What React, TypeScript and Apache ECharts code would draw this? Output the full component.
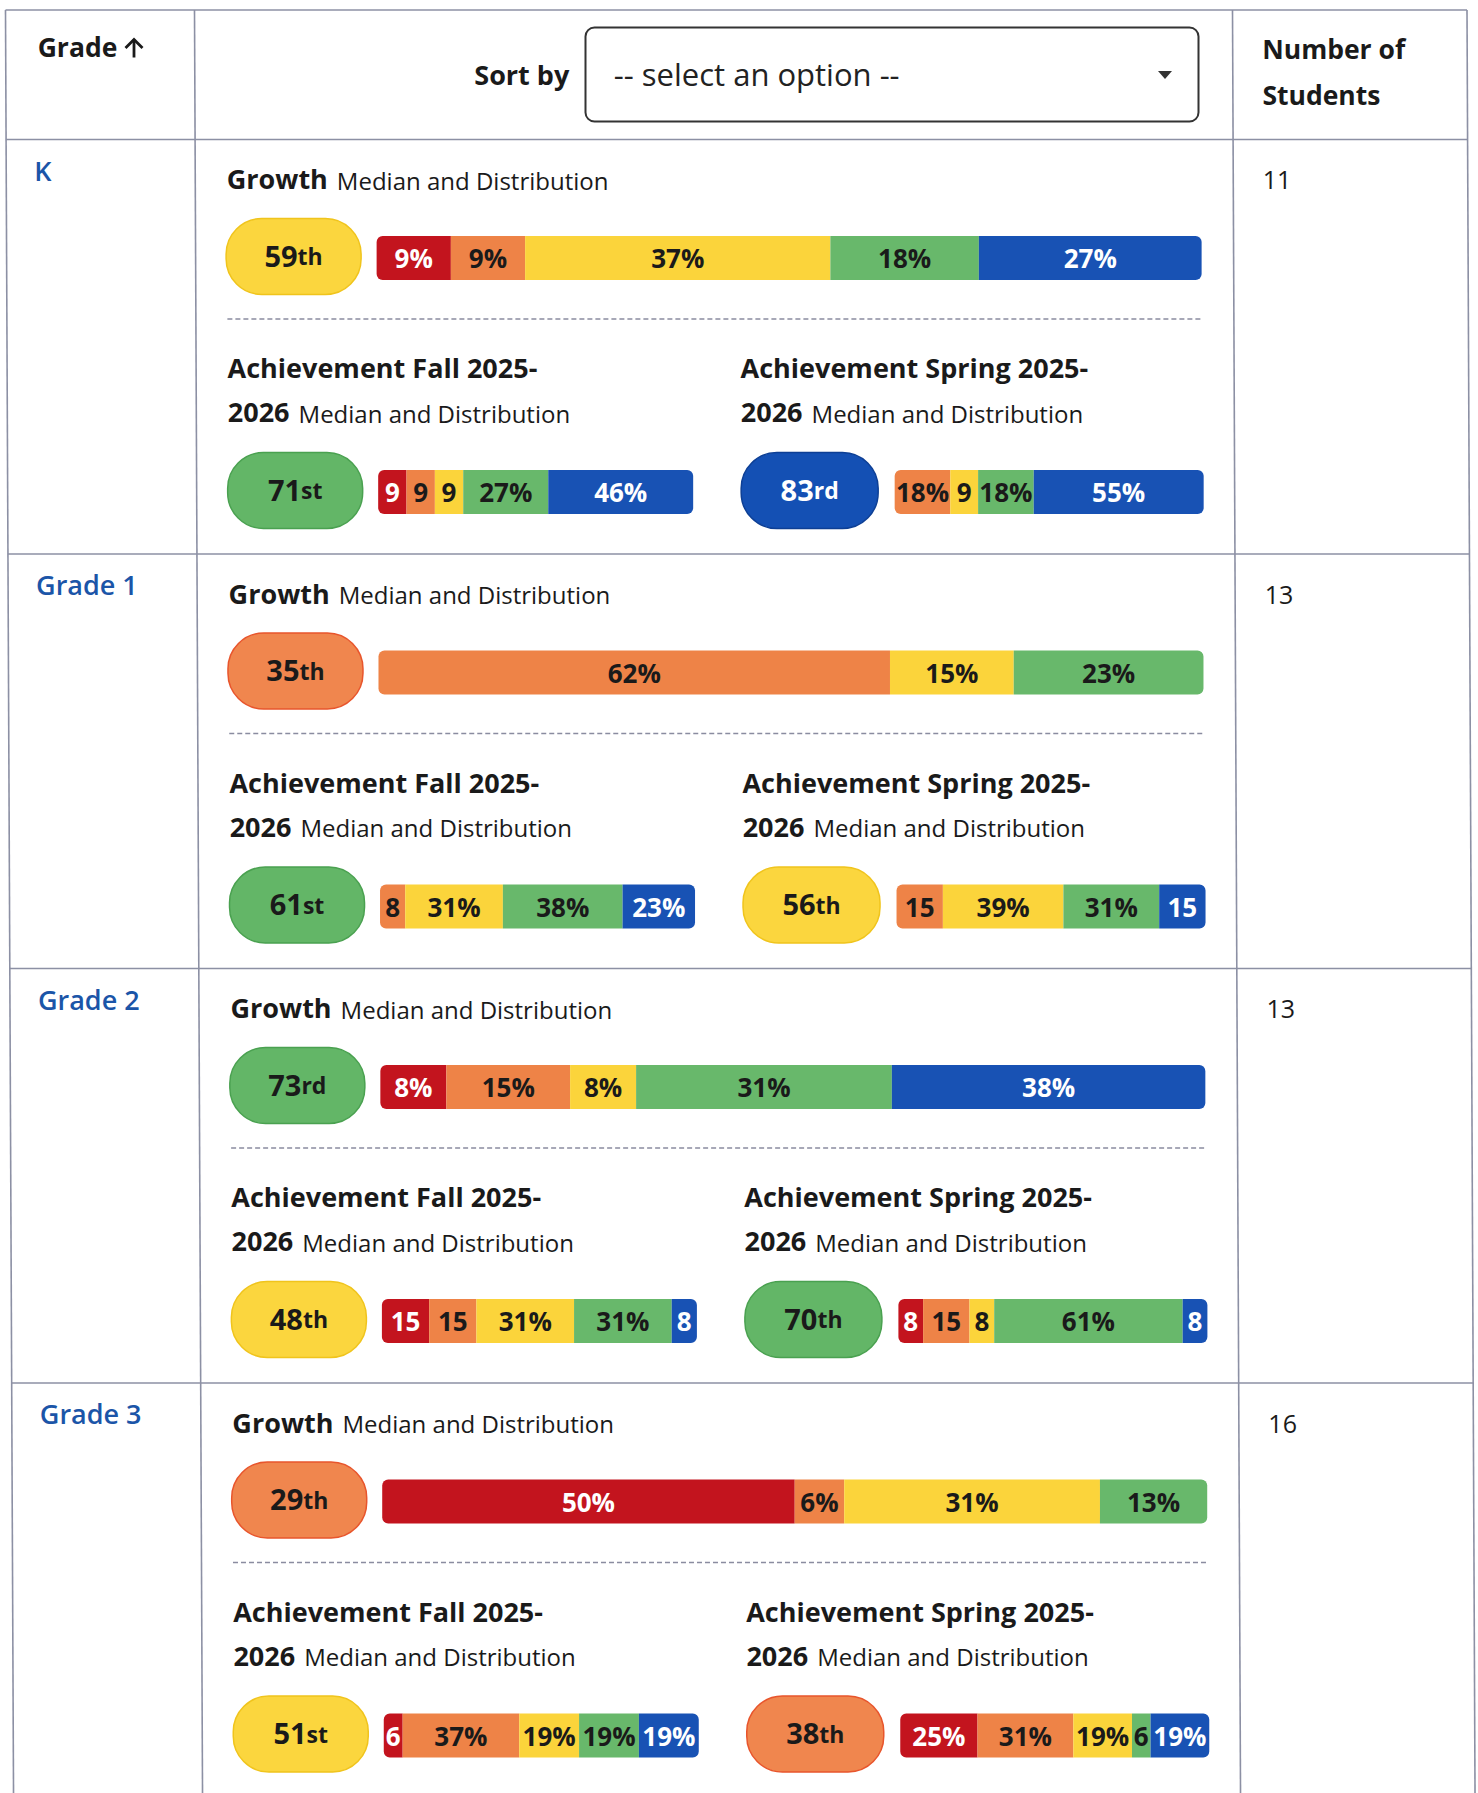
import React, { useEffect, useRef } from "react";
import * as echarts from "echarts";

// ---------- data ----------
const grades = ["K", "Grade 1", "Grade 2", "Grade 3"];
const students = [11, 13, 13, 16];
const growthMedian = [59, 35, 73, 29];
const fallMedian = [71, 61, 48, 51];
const springMedian = [83, 56, 70, 38];
// distribution by quintile level: [low, lowAvg, avg, highAvg, high] (%)
const growthDist = [
  [9, 9, 37, 18, 27],
  [0, 62, 15, 23, 0],
  [8, 15, 8, 31, 38],
  [50, 6, 31, 13, 0],
];
const fallDist = [
  [9, 9, 9, 27, 46],
  [0, 8, 31, 38, 23],
  [15, 15, 31, 31, 8],
  [6, 37, 19, 19, 19],
];
const springDist = [
  [0, 18, 9, 18, 55],
  [0, 15, 39, 31, 15],
  [8, 15, 8, 61, 8],
  [25, 31, 19, 6, 19],
];
const headerGrade = "Grade";
const headerSort = "Sort by";
const selectPlaceholder = "-- select an option --";
const headerStudents = ["Number of", "Students"];
const growthTitle = "Growth";
const subTitle = "Median and Distribution";
const fallTitle = ["Achievement Fall 2025-", "2026"];
const springTitle = ["Achievement Spring 2025-", "2026"];

// ---------- styles ----------
const levelColors = ["#c3141e", "#ee8347", "#fbd43b", "#68b86b", "#1852b4"];
const levelText = ["#ffffff", "#1a1a1a", "#1a1a1a", "#1a1a1a", "#ffffff"];
const pillFill = ["#c3141e", "#f0864e", "#fbd63e", "#63b667", "#1450b4"];
const pillStroke = ["#a00c14", "#e8552c", "#f0c41c", "#4aa150", "#0d3f95"];
const pillText = ["#ffffff", "#1a1a1a", "#1a1a1a", "#1a1a1a", "#ffffff"];
const FONT = '"Open Sans", "Noto Sans", sans-serif';
const LINE = "#8c90a4";
const W = 1478;
const H = 1793;
const ROW0 = 139.5;
const ROWH = 414.5;
const SKEW = 0.0045;
const sx = (x: number, y: number) => x + SKEW * (y - 10);

function suffix(n: number) {
  const t = n % 100;
  if (t >= 11 && t <= 13) return "th";
  const u = n % 10;
  return u === 1 ? "st" : u === 2 ? "nd" : u === 3 ? "rd" : "th";
}
function level(m: number) {
  return Math.min(4, Math.floor(m / 20));
}
function segLabel(v: number, px: number) {
  const est = String(v).length * 14.9 + 22.4;
  return est <= px ? v + "%" : String(v);
}

function buildOption() {
  const graphic: any[] = [];
  const grid: any[] = [];
  const xAxis: any[] = [];
  const yAxis: any[] = [];
  const series: any[] = [];
  const ls = { stroke: LINE, lineWidth: 1.6 };

  // table lines
  [5.5, 194.5, 1232.5, 1467].forEach((x) =>
    graphic.push({ type: "line", silent: true, shape: { x1: x, y1: 10, x2: sx(x, H), y2: H }, style: ls })
  );
  [10, ROW0, ROW0 + ROWH, ROW0 + 2 * ROWH, ROW0 + 3 * ROWH].forEach((y) =>
    graphic.push({ type: "line", silent: true, shape: { x1: sx(5.5, y), y1: y, x2: sx(1467, y), y2: y }, style: ls })
  );

  const txt = (x: number, y: number, text: string, size: number, weight: any, color = "#1a1a1a", align = "left") => ({
    type: "text",
    silent: true,
    x: sx(x, y),
    y,
    style: { text, fontSize: size, fontWeight: weight, fontFamily: FONT, fill: color, align, verticalAlign: "middle" },
  });

  // header
  graphic.push(txt(37.5, 47, headerGrade, 26.5, "bold"));
  graphic.push({ type: "line", silent: true, shape: { x1: 134, y1: 39.5, x2: 134, y2: 57.5 }, style: { stroke: "#1a1a1a", lineWidth: 2.8 } });
  graphic.push({ type: "polyline", silent: true, shape: { points: [[125.5, 48], [134, 39.5], [142.5, 48]] }, style: { stroke: "#1a1a1a", lineWidth: 2.8, fill: null } });
  graphic.push(txt(569, 74.5, headerSort, 27, "bold", "#1a1a1a", "right"));
  graphic.push({ type: "rect", silent: true, shape: { x: 585.5, y: 27.5, width: 613, height: 94, r: 9 }, style: { fill: "#fff", stroke: "#333", lineWidth: 2 } });
  graphic.push(txt(613.5, 73.5, selectPlaceholder, 31, "normal", "#222"));
  graphic.push({ type: "polygon", silent: true, shape: { points: [[1158, 71], [1172, 71], [1165, 79]] }, style: { fill: "#333" } });
  graphic.push(txt(1262, 48.5, headerStudents[0], 26.5, "bold"));
  graphic.push(txt(1262, 94.5, headerStudents[1], 26.5, "bold"));

  const pill = (left: number, width: number, cy: number, h: number, m: number) => {
    const lv = level(m);
    const L = sx(left, cy);
    graphic.push({ type: "rect", silent: true, shape: { x: L, y: cy - h / 2, width, height: h, r: h * 0.47 }, style: { fill: pillFill[lv], stroke: pillStroke[lv], lineWidth: 1.5 } });
    graphic.push({
      type: "text",
      silent: true,
      x: L + width / 2,
      y: cy - 1.5,
      style: {
        text: `{a|${m}}{b|${suffix(m)}}`,
        align: "center",
        verticalAlign: "middle",
        rich: {
          a: { fontSize: 29, fontWeight: "bold", fontFamily: FONT, fill: pillText[lv], verticalAlign: "bottom" },
          b: { fontSize: 23, fontWeight: "bold", fontFamily: FONT, fill: pillText[lv], verticalAlign: "bottom", padding: [0, 0, 2, 0] },
        },
      },
    });
  };

  const title2 = (x: number, y: number, bold: string, normal: string) => ({
    type: "text",
    silent: true,
    x: sx(x, y),
    y,
    style: {
      text: `{b|${bold}}{n|${normal}}`,
      verticalAlign: "middle",
      rich: {
        b: { fontSize: 27, fontWeight: "bold", fontFamily: FONT, fill: "#1a1a1a", verticalAlign: "bottom" },
        n: { fontSize: 24, fontWeight: "normal", fontFamily: FONT, fill: "#1a1a1a", verticalAlign: "bottom", padding: [0, 0, 0, 9] },
      },
    },
  });

  let gi = 0;
  grades.forEach((g, r) => {
    const R = ROW0 + r * ROWH;
    graphic.push(txt(33.5, R + 30.5, g, 27, 600, "#1b55a8"));
    graphic.push(txt(1262, R + 39.5, String(students[r]), 25, "normal"));
    graphic.push(title2(226, R + 39, growthTitle, subTitle));
    graphic.push({ type: "line", silent: true, shape: { x1: sx(226, R + 179.5), y1: R + 179.5, x2: sx(1201, R + 179.5), y2: R + 179.5 }, style: { stroke: "#8a8ca0", lineWidth: 1.5, lineDash: [5, 3] } });
    graphic.push(txt(226, R + 228, fallTitle[0], 27, "bold"));
    graphic.push(title2(226, R + 272, fallTitle[1], subTitle));
    graphic.push(txt(739, R + 228, springTitle[0], 27, "bold"));
    graphic.push(title2(739, R + 272, springTitle[1], subTitle));

    pill(225, 135, R + 117, 76, growthMedian[r]);
    pill(225.5, 135, R + 351, 76, fallMedian[r]);
    pill(739, 137, R + 351, 76, springMedian[r]);

    const bars = [
      { dist: growthDist[r], left: 375.5, width: 825, cy: R + 118.5 },
      { dist: fallDist[r], left: 376, width: 315, cy: R + 352.5 },
      { dist: springDist[r], left: 892.5, width: 309, cy: R + 352.5 },
    ];
    bars.forEach((b) => {
      const total = b.dist.reduce((a, c) => a + c, 0);
      grid.push({ left: sx(b.left, b.cy), top: b.cy - 22, width: b.width, height: 44 });
      xAxis.push({ type: "value", gridIndex: gi, min: 0, max: total, show: false });
      yAxis.push({ type: "category", gridIndex: gi, data: [g], show: false });
      const nz = b.dist.map((v, i) => (v > 0 ? i : -1)).filter((i) => i >= 0);
      const first = nz[0];
      const last = nz[nz.length - 1];
      b.dist.forEach((v, li) => {
        const rad = 6;
        const br = [li === first ? rad : 0, li === last ? rad : 0, li === last ? rad : 0, li === first ? rad : 0];
        series.push({
          type: "bar",
          xAxisIndex: gi,
          yAxisIndex: gi,
          stack: "s" + gi,
          barWidth: 44,
          silent: true,
          data: [
            {
              value: v,
              itemStyle: { color: levelColors[li], borderRadius: br },
              label: {
                show: v > 0,
                position: "inside",
                formatter: segLabel(v, (v / total) * b.width),
                color: levelText[li],
                fontSize: 26,
                fontWeight: "bold",
                fontFamily: FONT,
              },
            },
          ],
        });
      });
      gi++;
    });
  });

  return { animation: false, backgroundColor: "#ffffff", grid, xAxis, yAxis, series, graphic };
}

export default function App() {
  const ref = useRef<HTMLDivElement>(null);
  useEffect(() => {
    if (!ref.current) return;
    const chart = echarts.init(ref.current, null, { renderer: "svg", width: W, height: H });
    chart.setOption(buildOption() as any);
    return () => chart.dispose();
  }, []);
  return (
    <div
      ref={ref}
      style={{ position: "absolute", left: 0, top: 0, width: W, height: H, background: "#fff" }}
    />
  );
}
